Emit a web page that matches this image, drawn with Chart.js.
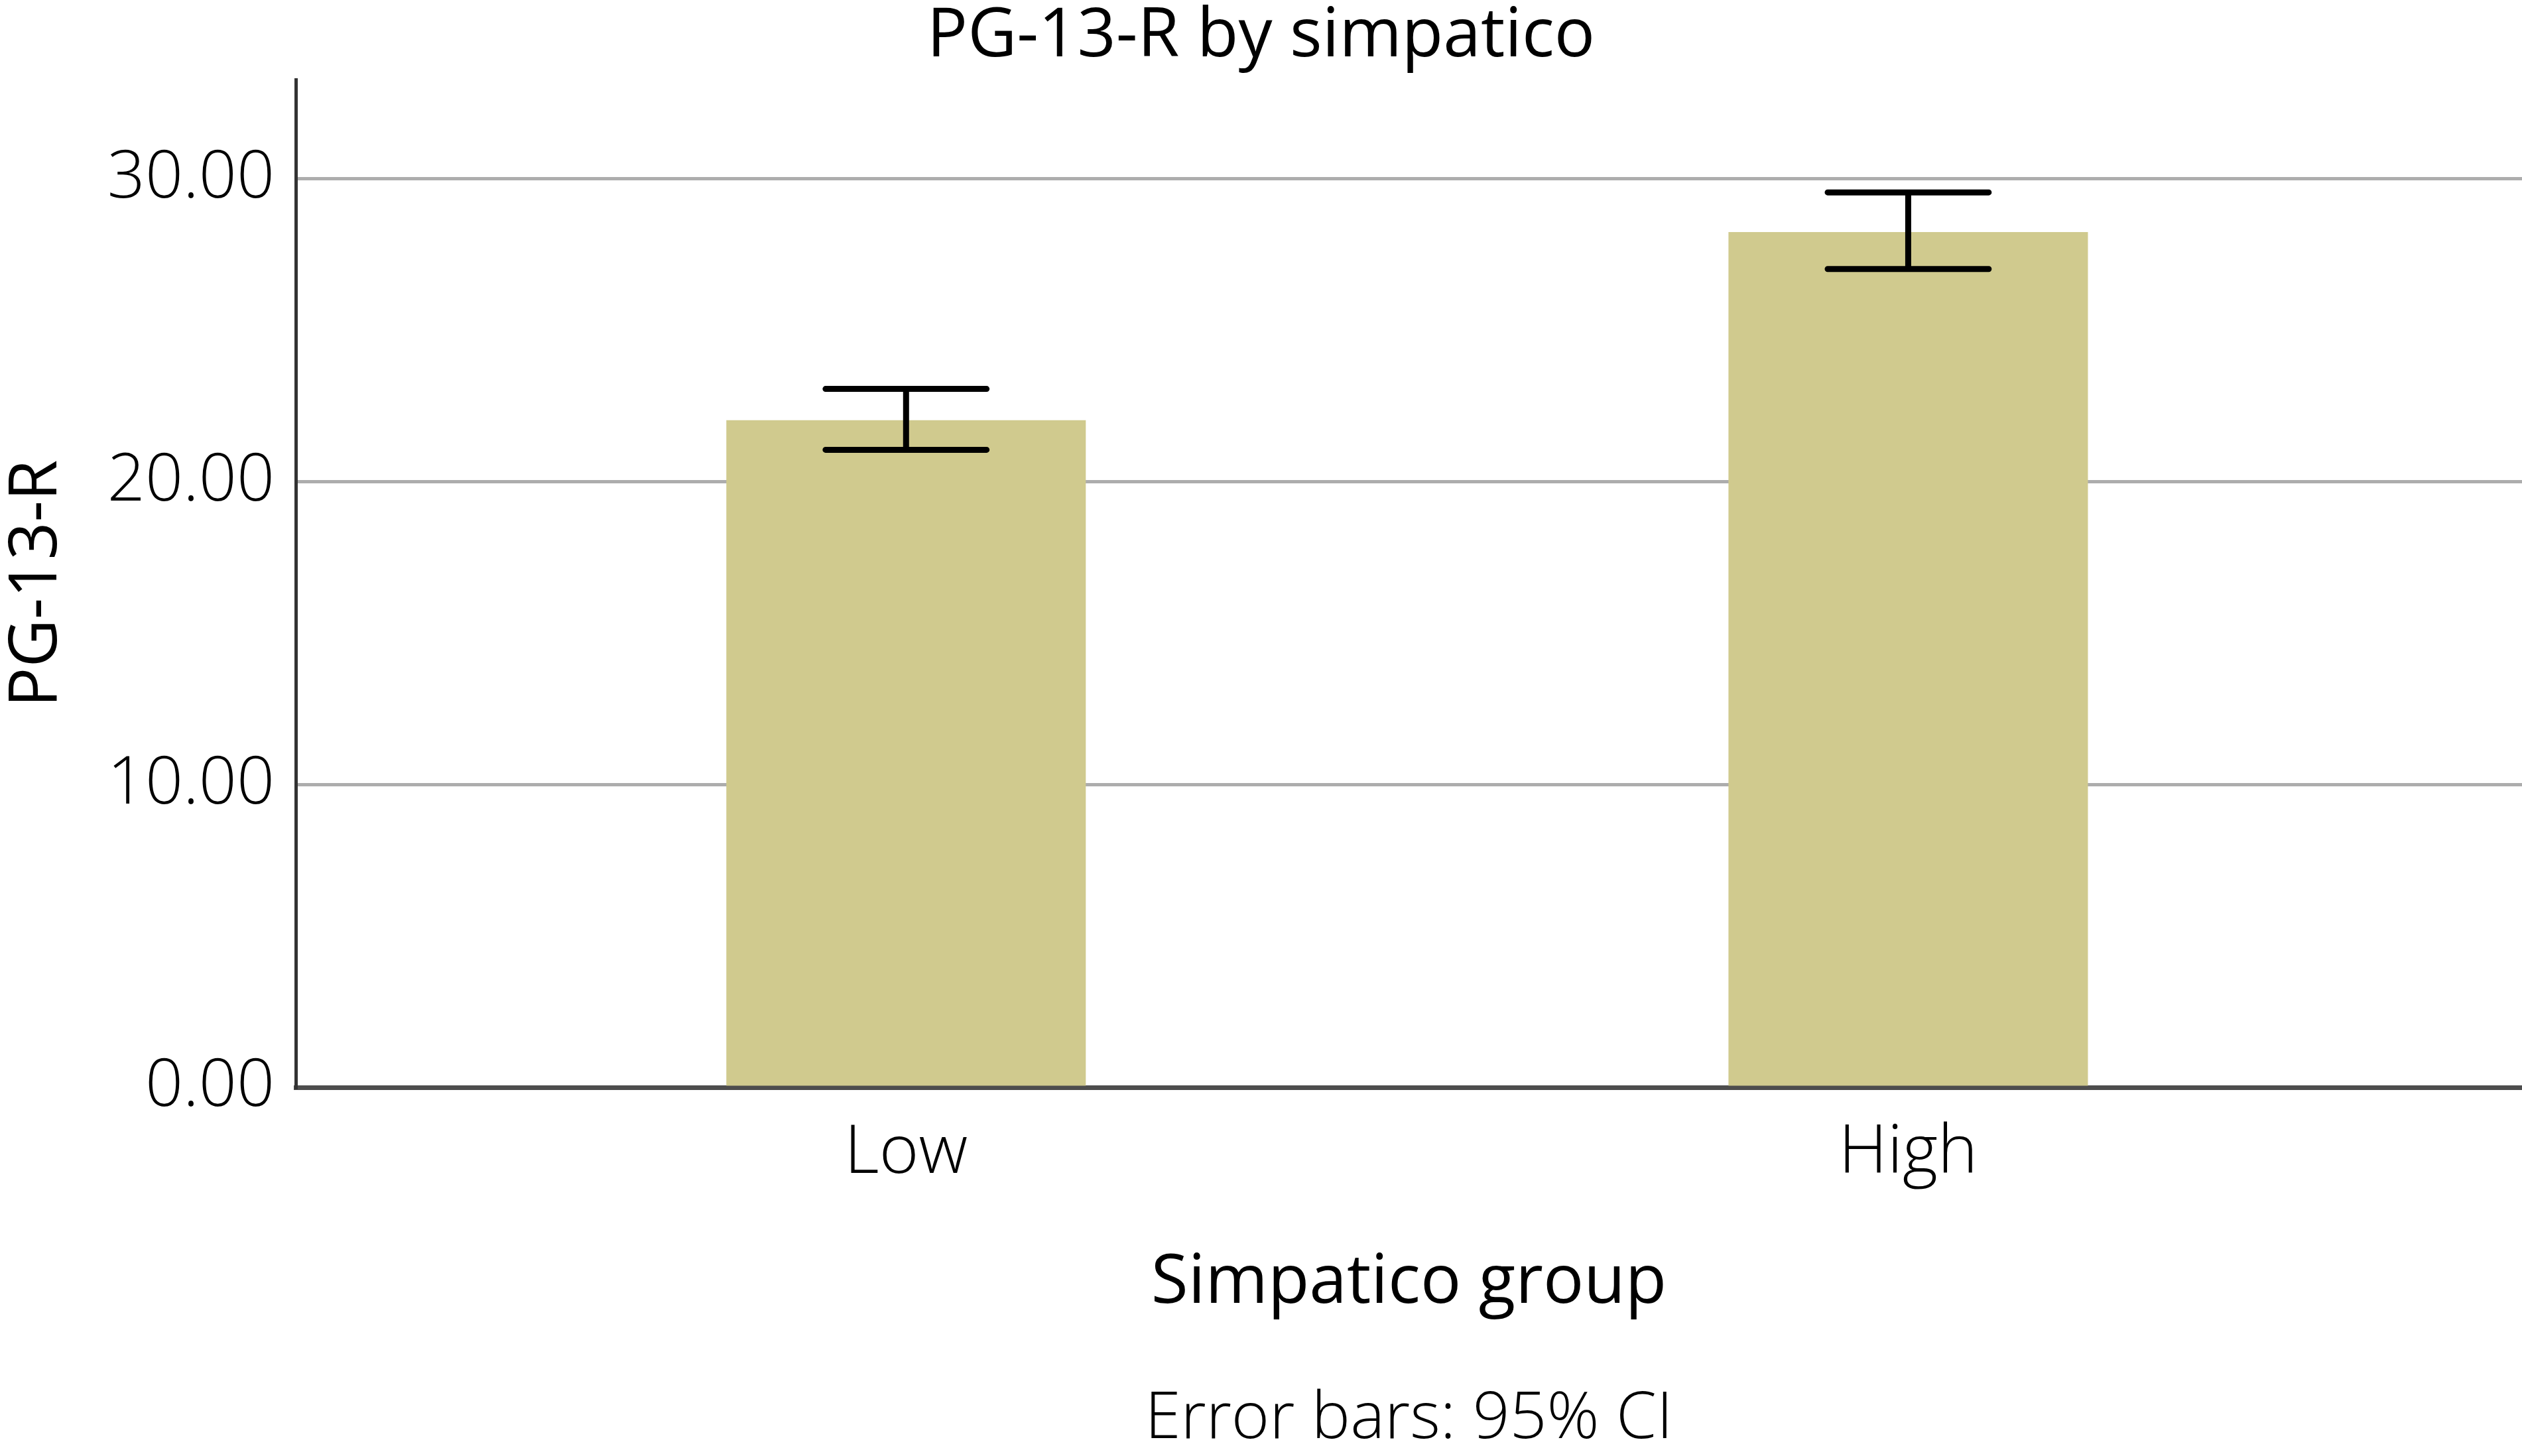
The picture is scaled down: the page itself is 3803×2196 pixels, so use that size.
<!DOCTYPE html>
<html><head><meta charset="utf-8">
<script src="https://cdn.jsdelivr.net/npm/chart.js@4.4.1/dist/chart.umd.min.js"></script>
<style>html,body{margin:0;padding:0;background:#fff;} canvas{display:block;}</style>
</head><body>
<canvas id="c" width="3803" height="2196"></canvas>
<script>
// ---- data ----
const categories = ['Low', 'High'];
const means = [22.03, 28.24];
const ciLower = [21.05, 27.02];
const ciUpper = [23.06, 29.55];
const yTickValues = [0, 10, 20, 30];
const chartTitle = 'PG-13-R by simpatico';
const xAxisTitle = 'Simpatico group';
const yAxisTitle = 'PG-13-R';
const footNote = 'Error bars: 95% CI';

const FONT = "'Open Sans', 'Noto Sans', sans-serif";

const errorBars = {
  id: 'errorBars',
  afterDatasetsDraw(chart) {
    const meta = chart.getDatasetMeta(0);
    const y = chart.scales.y;
    const ctx = chart.ctx;
    ctx.save();
    ctx.strokeStyle = '#000';
    ctx.lineWidth = 9;
    meta.data.forEach((bar, i) => {
      const cx = bar.x;
      const half = bar.width * 0.224;
      const yl = y.getPixelForValue(ciLower[i]);
      const yu = y.getPixelForValue(ciUpper[i]);
      ctx.lineCap = 'butt';
      ctx.beginPath(); ctx.moveTo(cx, yl); ctx.lineTo(cx, yu); ctx.stroke();
      ctx.lineCap = 'round';
      ctx.beginPath();
      ctx.moveTo(cx - half, yu); ctx.lineTo(cx + half, yu);
      ctx.moveTo(cx - half, yl); ctx.lineTo(cx + half, yl);
      ctx.stroke();
    });
    ctx.restore();
  }
};

const footNotePlugin = {
  id: 'footNote',
  afterDraw(chart) {
    const ctx = chart.ctx;
    const a = chart.chartArea;
    ctx.save();
    ctx.font = `300 98px ${FONT}`;
    ctx.fillStyle = '#000';
    ctx.textAlign = 'center';
    ctx.textBaseline = 'alphabetic';
    ctx.fillText(footNote, (a.left + a.right) / 2, chart.height - 27);
    ctx.restore();
  }
};

new Chart(document.getElementById('c'), {
  type: 'bar',
  data: {
    datasets: [{
      data: categories.map((c, i) => ({ x: i, y: means[i] })),
      backgroundColor: '#d0ca8e',
      borderWidth: 0,
      categoryPercentage: 1,
      barPercentage: 0.3587
    }]
  },
  options: {
    responsive: false,
    devicePixelRatio: 1,
    animation: false,
    layout: { padding: 0 },
    plugins: {
      legend: { display: false },
      tooltip: { enabled: false },
      title: {
        display: true,
        text: chartTitle,
        color: '#000',
        font: { family: FONT, size: 102, weight: '400', lineHeight: 1.1 },
        padding: { top: 0, bottom: 8 }
      }
    },
    scales: {
      x: {
        type: 'linear',
        offset: false,
        min: -0.609,
        max: 1.6125,
        afterBuildTicks: (s) => { s.ticks = categories.map((c, i) => ({ value: i })); },
        afterFit: (s) => { s.height = 556; },
        ticks: {
          callback: (v) => categories[v] ?? '',
          color: '#000',
          font: { family: FONT, size: 102, weight: '300' },
          padding: 39,
          maxRotation: 0
        },
        grid: { display: false, drawTicks: false, offset: false },
        border: { display: true, color: '#4d4d4d', width: 7 },
        title: {
          display: true,
          text: xAxisTitle,
          color: '#000',
          font: { family: FONT, size: 102, weight: '400' },
          padding: { top: 0, bottom: 199 }
        }
      },
      y: {
        min: 0,
        max: 33.27,
        afterBuildTicks: (s) => { s.ticks = yTickValues.map(v => ({ value: v })); },
        afterFit: (s) => { s.width = 446; },
        ticks: {
          callback: (v) => Number(v).toFixed(2),
          color: '#000',
          font: { family: FONT, size: 100, weight: '300' },
          padding: 32
        },
        grid: { color: '#adadad', lineWidth: 5, drawTicks: false },
        border: { display: true, color: '#333', width: 5 },
        title: {
          display: true,
          text: yAxisTitle,
          color: '#000',
          font: { family: FONT, size: 100, weight: '400', lineHeight: 1.14 },
          padding: { top: 0, bottom: 0 }
        }
      }
    }
  },
  plugins: [errorBars, footNotePlugin]
});
</script>
</body></html>
